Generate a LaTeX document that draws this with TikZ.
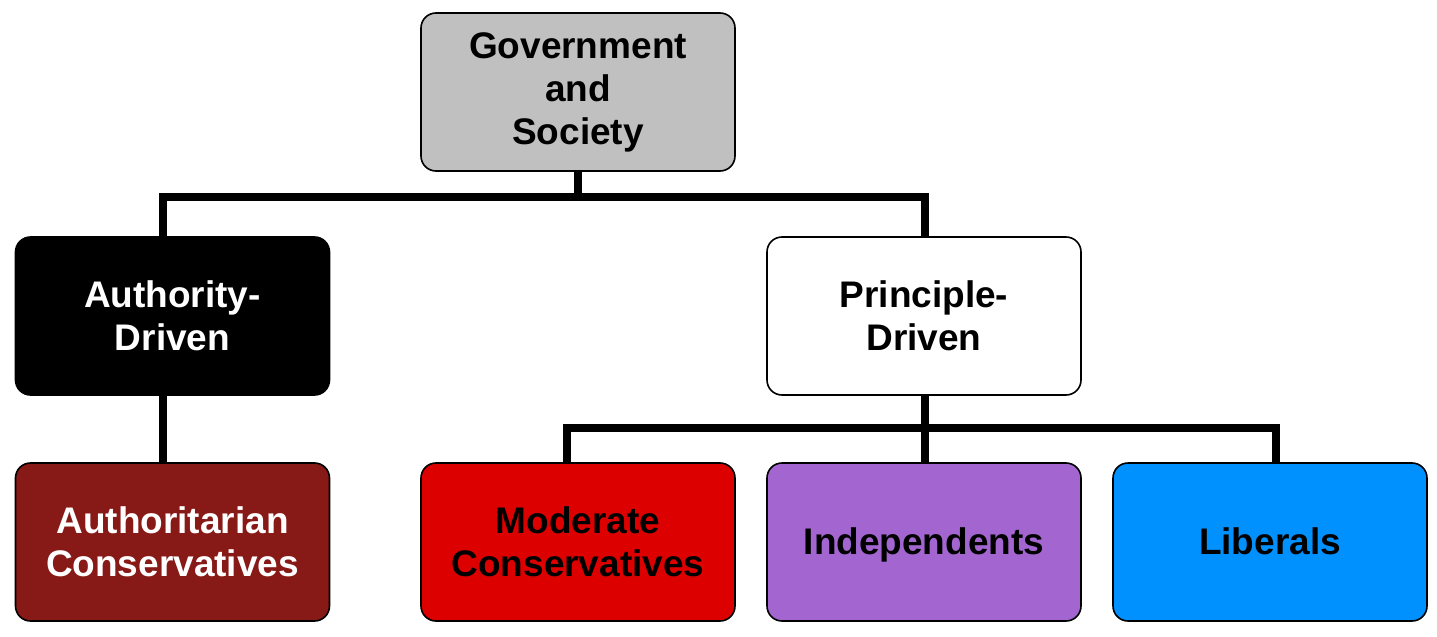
\documentclass[tikz,border=0pt]{standalone}
\usepackage{fontspec}
\setmainfont{Liberation Sans}
\usetikzlibrary{backgrounds}
\definecolor{topgray}{HTML}{C0C0C0}
\definecolor{darkred}{HTML}{871A17}
\definecolor{modred}{HTML}{DD0000}
\definecolor{indpurple}{HTML}{A366D1}
\definecolor{libblue}{HTML}{0091FF}
\begin{document}
\begin{tikzpicture}[x=0.5pt,y=-0.5pt,
  box/.style={draw=black,line width=0.8pt,rounded corners=7.5pt,minimum width=157pt,minimum height=79pt,
    align=center,font=\fontsize{18.5}{21.5}\selectfont\bfseries,inner sep=0pt},
  oneline/.style={text height=16.5pt,text depth=4pt},
  conn/.style={line width=4pt,line cap=rect,line join=miter}]
\useasboundingbox (0,0) rectangle (1437,637);
\node[box,fill=topgray] (gov) at (578,92) {Government\\and\\Society};
\node[box,fill=black,text=white] (auth) at (172.5,316) {Authority-\\Driven};
\node[box,fill=white] (prin) at (924,316) {Principle-\\Driven};
\node[box,fill=darkred,text=white] (ac) at (172.5,542) {Authoritarian\\Conservatives};
\node[box,fill=modred] (mc) at (578,542) {Moderate\\Conservatives};
\node[box,fill=indpurple,oneline] (ind) at (924,542) {Independents};
\node[box,fill=libblue,oneline] (lib) at (1270,542) {Liberals};
\coordinate (j1) at (578,197);
\coordinate (j2) at (925,428);
\coordinate (a1) at (163,300);
\coordinate (p1) at (925,300);
\coordinate (m1) at (567,520);
\coordinate (i1) at (925,520);
\coordinate (l1) at (1276,520);
\begin{pgfonlayer}{background}
\fill[white] (0,0) rectangle (1437,637);
\draw[conn] (gov.center) -- (j1);
\draw[conn] (a1) |- (j1) -| (p1);
\draw[conn] (a1) -- (a1 |- ac.center);
\draw[conn] (j2 |- prin.center) -- (j2);
\draw[conn] (m1) |- (j2) -| (l1);
\draw[conn] (j2) -- (i1);
\end{pgfonlayer}
\end{tikzpicture}
\end{document}
